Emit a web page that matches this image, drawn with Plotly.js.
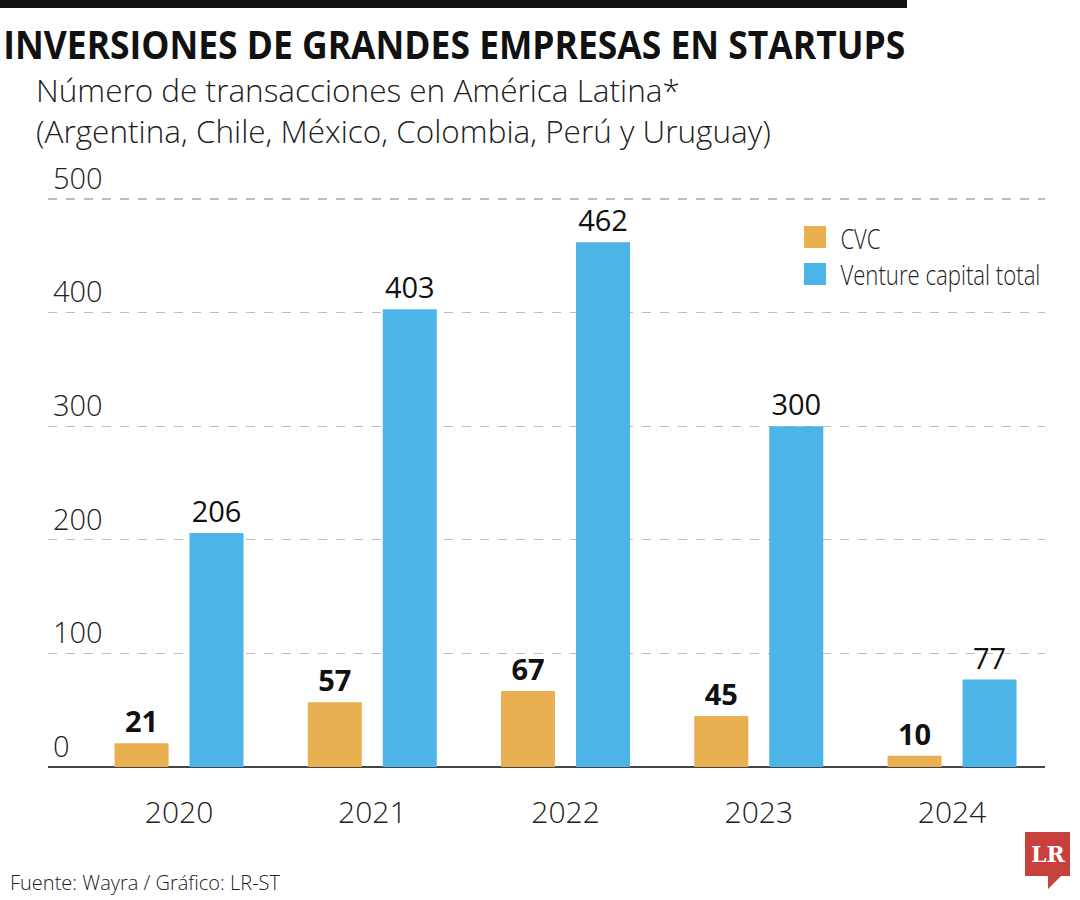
<!DOCTYPE html>
<html>
<head>
<meta charset="utf-8">
<script src="https://cdn.plot.ly/plotly-3.0.1.min.js"></script>
<style>html,body{margin:0;padding:0;background:#fff;}#chart{width:1080px;height:900px;}</style>
</head>
<body>
<div id="chart"></div>
<script>
const years = ['2020', '2021', '2022', '2023', '2024'];
const cvcValues = [21, 57, 67, 45, 10];
const vcTotalValues = [206, 403, 462, 300, 77];
const seriesNames = ['CVC', 'Venture capital total'];
const yTicks = [0, 100, 200, 300, 400, 500];

const ORANGE = '#E8B050';
const BLUE = '#4CB4E6';
const L = 48, R = 1045, T = 135, B = 767, W = 1080, H = 900;
const Y500 = 199;
const yMax = 500 + (Y500 - T) / ((B - Y500) / 500);
const px = x => (x - L) / (R - L);
const py = y => (B - y) / (B - T);
const LIGHT = 'Open Sans, Noto Sans, sans-serif';

const traces = [
  {
    type: 'bar', name: seriesNames[0], x: years, y: cvcValues,
    marker: {color: ORANGE}, text: cvcValues.map(String), textposition: 'outside',
    textfont: {family: LIGHT, size: 29, color: '#111', weight: 700},
    cliponaxis: false, hoverinfo: 'x+y'
  },
  {
    type: 'bar', name: seriesNames[1], x: years, y: vcTotalValues,
    marker: {color: BLUE}, text: vcTotalValues.map(String), textposition: 'outside',
    textfont: {family: LIGHT, size: 29, color: '#111', weight: 500},
    cliponaxis: false, hoverinfo: 'x+y'
  }
];

const shapes = [
  {type: 'rect', xref: 'paper', yref: 'paper', x0: px(0), x1: px(907), y0: py(8), y1: py(0), fillcolor: '#111', line: {width: 0}},
  {type: 'rect', xref: 'paper', yref: 'paper', x0: px(804), x1: px(826), y0: py(248), y1: py(226), fillcolor: ORANGE, line: {width: 0}},
  {type: 'rect', xref: 'paper', yref: 'paper', x0: px(804), x1: px(826), y0: py(285), y1: py(263), fillcolor: BLUE, line: {width: 0}},
  {type: 'path', xref: 'paper', yref: 'paper',
   path: `M ${px(1025)} ${py(832)} L ${px(1070)} ${py(832)} L ${px(1070)} ${py(876)} L ${px(1061)} ${py(876)} L ${px(1048)} ${py(889)} L ${px(1048)} ${py(876)} L ${px(1025)} ${py(876)} Z`,
   fillcolor: '#C8403B', line: {width: 0}}
];

// [annotation index, target text width in px]
const condense = [[0, 902], [2, 40], [3, 200]];

const annotations = [
  {xref: 'paper', yref: 'paper', x: px(454), y: py(44), xanchor: 'center', yanchor: 'middle', showarrow: false,
   text: 'INVERSIONES DE GRANDES EMPRESAS EN STARTUPS', font: {family: LIGHT, size: 40, color: '#111', weight: 700}},
  {xref: 'paper', yref: 'paper', x: px(34), y: py(110), xanchor: 'left', yanchor: 'middle', align: 'left', showarrow: false,
   text: 'Número de transacciones en América Latina*<br>(Argentina, Chile, México, Colombia, Perú y Uruguay)',
   font: {family: LIGHT, size: 31.5, color: '#222', weight: 300}},
  {xref: 'paper', yref: 'paper', x: px(860), y: py(238), xanchor: 'center', yanchor: 'middle', showarrow: false,
   text: seriesNames[0], font: {family: LIGHT, size: 28, color: '#222', weight: 300}},
  {xref: 'paper', yref: 'paper', x: px(940), y: py(274), xanchor: 'center', yanchor: 'middle', showarrow: false,
   text: seriesNames[1], font: {family: LIGHT, size: 28, color: '#222', weight: 300}},
  {xref: 'paper', yref: 'paper', x: px(8), y: py(882), xanchor: 'left', yanchor: 'middle', showarrow: false,
   text: 'Fuente: Wayra / Gráfico: LR-ST', font: {family: LIGHT, size: 20, color: '#222', weight: 300}},
  {xref: 'paper', yref: 'paper', x: px(1047.5), y: py(854), xanchor: 'center', yanchor: 'middle', showarrow: false,
   text: '<b>LR</b>', font: {family: 'DejaVu Serif, Liberation Serif, serif', size: 22, color: '#fff'}}
];

const layout = {
  width: W, height: H,
  margin: {l: L, r: W - R, t: T, b: H - B, pad: 0},
  paper_bgcolor: '#fff', plot_bgcolor: '#fff',
  showlegend: false,
  barmode: 'group', bargap: 0.224, bargroupgap: 0.28,
  xaxis: {
    type: 'category', range: [-0.678, 4.481], showgrid: false, zeroline: false, showline: false,
    ticks: '', tickfont: {family: LIGHT, size: 30, color: '#222', weight: 300}, ticklabelstandoff: 25, fixedrange: true
  },
  yaxis: {
    range: [0, yMax], tickvals: yTicks, ticktext: yTicks.map(String),
    showgrid: true, gridcolor: '#BDBDBD', griddash: 'dash', gridwidth: 1.2,
    zeroline: true, zerolinecolor: '#444', zerolinewidth: 1.5, showline: false, ticks: '',
    ticklabelposition: 'inside top', ticklabelstandoff: 2,
    tickfont: {family: LIGHT, size: 29, color: '#222', weight: 300}, fixedrange: true
  },
  shapes: shapes,
  annotations: annotations,
  font: {family: LIGHT}
};

Plotly.newPlot('chart', traces, layout, {displayModeBar: false, staticPlot: true}).then(gd => {
  condense.forEach(([idx, len]) => {
    const g = gd.querySelector(`.annotation[data-index="${idx}"]`);
    if (!g) return;
    const t = g.querySelector('text.annotation-text');
    if (t) {
      t.setAttribute('textLength', len);
      t.setAttribute('lengthAdjust', 'spacingAndGlyphs');
    }
    g.querySelectorAll('rect').forEach(r => {
      const w = parseFloat(r.getAttribute('width'));
      const x = parseFloat(r.getAttribute('x') || 0);
      if (!isNaN(w) && w > len + 4) {
        r.setAttribute('x', x + (w - len - 4) / 2);
        r.setAttribute('width', len + 4);
      }
    });
  });
});
</script>
</body>
</html>
